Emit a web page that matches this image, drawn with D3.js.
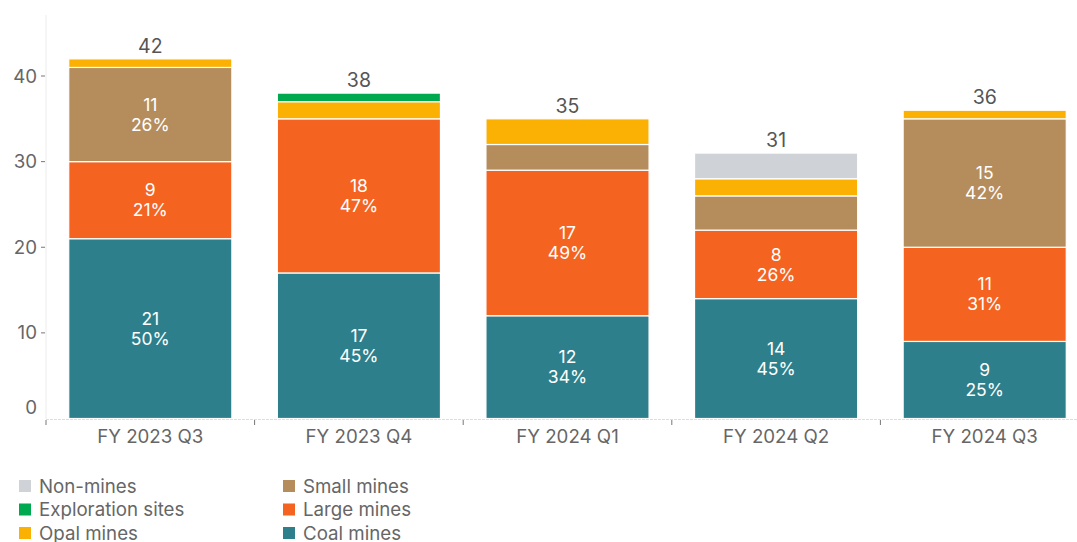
<!DOCTYPE html>
<html><head><meta charset="utf-8">
<script src="https://cdn.jsdelivr.net/npm/d3@7"></script>
<style>body{margin:0;background:#fff;}svg{font-family:"Inter","Liberation Sans",sans-serif;}</style>
</head><body><svg id="c" width="1077" height="542"></svg>
<script>
const categories = ["FY 2023 Q3","FY 2023 Q4","FY 2024 Q1","FY 2024 Q2","FY 2024 Q3"];
const coalMines = [21,17,12,14,9];
const largeMines = [9,18,17,8,11];
const smallMines = [11,0,3,4,15];
const opalMines = [1,2,3,2,1];
const explorationSites = [0,1,0,0,0];
const nonMines = [0,0,0,3,0];
const yTicks = [0,10,20,30,40];
const seriesNames = ["Coal mines","Large mines","Small mines","Opal mines","Exploration sites","Non-mines"];
const seriesColors = ["#2e7f8c","#f4631f","#b58d5d","#fbb004","#00a94f","#cfd3d7"];
const seriesValues = [coalMines,largeMines,smallMines,opalMines,explorationSites,nonMines];

const rows = categories.map((c,i)=>{const r={cat:c}; seriesNames.forEach((s,j)=>r[s]=seriesValues[j][i]); return r;});
const totals = categories.map((c,i)=>d3.sum(seriesValues,v=>v[i]));

const svg = d3.select("#c");
const x = d3.scaleBand().domain(categories).range([46,1089]).paddingInner(0.218).paddingOuter(0.109);
const y = d3.scaleLinear().domain([0,40]).range([418.5,76]);

// axis lines
svg.append("line").attr("x1",46).attr("x2",46).attr("y1",15).attr("y2",419).attr("stroke","#ececec");
svg.append("line").attr("x1",46).attr("x2",1077).attr("y1",419.5).attr("y2",419.5).attr("stroke","#ddd").attr("stroke-dasharray","3,1");
// y ticks
const yg = svg.append("g");
yTicks.forEach(t=>{
  if(t>0) yg.append("line").attr("x1",41).attr("x2",45).attr("y1",y(t)).attr("y2",y(t)).attr("stroke","#777");
  yg.append("text").attr("x",37).attr("y",y(t)-(t===0?11:0)).attr("dy","0.35em").attr("text-anchor","end")
    .attr("font-size",18.7).attr("fill","#666").text(t);
});
// x boundary ticks
const step = x.step();
for(let i=0;i<=categories.length;i++){
  const bx = 46 + i*step;
  svg.append("line").attr("x1",bx).attr("x2",bx).attr("y1",420).attr("y2",425).attr("stroke","#777");
}
categories.forEach(c=>{
  svg.append("text").attr("x",x(c)+x.bandwidth()/2).attr("y",443).attr("text-anchor","middle")
    .attr("font-size",18.7).attr("fill","#666").text(c);
});

const stack = d3.stack().keys(seriesNames)(rows);
const layers = svg.selectAll("g.layer").data(stack).join("g").attr("fill",(d,i)=>seriesColors[i]);
layers.selectAll("rect").data(d=>d.filter(p=>p[1]-p[0]>0)).join("rect")
  .attr("x",d=>x(d.data.cat)).attr("width",x.bandwidth())
  .attr("y",d=>y(d[1])).attr("height",d=>y(d[0])-y(d[1]))
  .attr("stroke","#fff").attr("stroke-width",1.2);

// segment labels
stack.forEach((layer,j)=>{
  layer.forEach((p,i)=>{
    const v=p[1]-p[0];
    if(v>=5){
      const cx=x(p.data.cat)+x.bandwidth()/2, cy=(y(p[0])+y(p[1]))/2;
      const t=svg.append("text").attr("text-anchor","middle").attr("fill","#fff").attr("font-size",17.5);
      t.append("tspan").attr("x",cx).attr("y",cy-10).attr("dy","0.35em").text(v);
      t.append("tspan").attr("x",cx).attr("y",cy+10).attr("dy","0.35em").text(Math.round(v/totals[i]*100)+"%");
    }
  });
});
// totals
categories.forEach((c,i)=>{
  svg.append("text").attr("x",x(c)+x.bandwidth()/2).attr("y",y(totals[i])-13).attr("dy","0.35em")
    .attr("text-anchor","middle").attr("font-size",19.5).attr("fill","#555").text(totals[i]);
});

// legend
const legendOrder = [["Non-mines",0,0],["Exploration sites",0,1],["Opal mines",0,2],["Small mines",1,0],["Large mines",1,1],["Coal mines",1,2]];
legendOrder.forEach(([name,col,row])=>{
  const lx = col===0?19:283, ly = 486+row*23.5;
  const ci = seriesNames.indexOf(name);
  svg.append("rect").attr("x",lx).attr("y",ly-6).attr("width",12).attr("height",12).attr("fill",seriesColors[ci]);
  svg.append("text").attr("x",lx+20).attr("y",ly).attr("dy","0.35em").attr("font-size",18.7).attr("fill","#666").text(name);
});
</script></body></html>
